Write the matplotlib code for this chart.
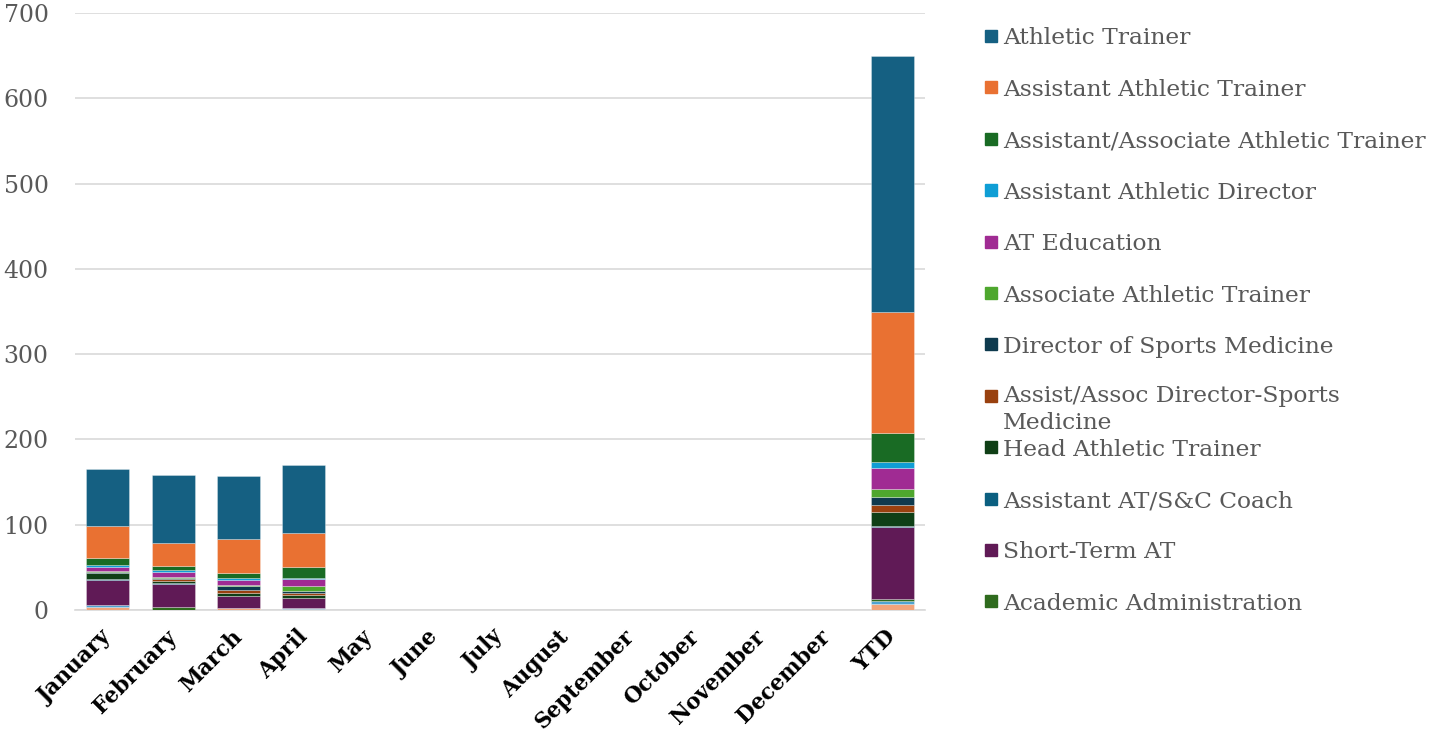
import matplotlib
matplotlib.use("Agg")
import matplotlib.pyplot as plt
import numpy as np
from matplotlib.patches import Rectangle

months = ["January", "February", "March", "April", "May", "June", "July",
          "August", "September", "October", "November", "December"]
categories = months + ["YTD"]

# series listed bottom -> top of the stack (values for Jan..Apr; later months empty)
other_light_orange = [4, 0, 2, 1]
other_light_blue = [2, 0, 0, 1]
academic_administration = [0, 3, 0, 0]
short_term_at = [29, 28, 15, 12]
assistant_at_sc_coach = [1, 1, 0, 0]
head_athletic_trainer = [7, 2, 3, 4]
assist_assoc_director_sm = [0, 2, 4, 2]
director_sports_medicine = [1, 2, 4, 2]
associate_athletic_trainer = [2, 1, 1, 6]
at_education = [5, 5, 6, 8]
assistant_athletic_director = [2, 3, 2, 1]
assistant_associate_at = [8, 5, 6, 14]
assistant_athletic_trainer = [37, 27, 40, 39]
athletic_trainer = [67, 79, 74, 80]

series = [
    ("Other A", other_light_orange, "#F1A47A", False),
    ("Other B", other_light_blue, "#4FA3D1", False),
    ("Academic Administration", academic_administration, "#2F6B1E", True),
    ("Short-Term AT", short_term_at, "#601A56", True),
    ("Assistant AT/S&C Coach", assistant_at_sc_coach, "#0B5F80", True),
    ("Head Athletic Trainer", head_athletic_trainer, "#0F3F16", True),
    ("Assist/Assoc Director-Sports\nMedicine", assist_assoc_director_sm, "#99410F", True),
    ("Director of Sports Medicine", director_sports_medicine, "#0E3A4E", True),
    ("Associate Athletic Trainer", associate_athletic_trainer, "#4EA72E", True),
    ("AT Education", at_education, "#A02B93", True),
    ("Assistant Athletic Director", assistant_athletic_director, "#0F9ED5", True),
    ("Assistant/Associate Athletic Trainer", assistant_associate_at, "#196B24", True),
    ("Assistant Athletic Trainer", assistant_athletic_trainer, "#E97132", True),
    ("Athletic Trainer", athletic_trainer, "#156082", True),
]

FONT = "DejaVu Serif"
W, H = 1432, 733
fig = plt.figure(figsize=(W / 100, H / 100), dpi=100)
ax = fig.add_axes([75 / W, (H - 610) / H, 850 / W, 597 / H])

x = np.arange(len(categories))
bottom = np.zeros(len(categories))
for name, vals, color, _ in series:
    full = np.zeros(len(categories))
    full[:len(vals)] = vals
    full[-1] = sum(vals)  # YTD
    ax.bar(x, full, bottom=bottom, width=0.66, color=color,
           edgecolor=(1, 1, 1, 0.35), linewidth=0.6, zorder=3)
    bottom += full

ax.set_xlim(-0.5, len(categories) - 0.5)
ax.set_ylim(0, 700)
ax.set_yticks(np.arange(0, 701, 100))
ax.yaxis.grid(True, color="#D9D9D9", linewidth=1.2, zorder=0)
ax.set_axisbelow(True)
for s in ["top", "right", "left"]:
    ax.spines[s].set_visible(False)
ax.spines["bottom"].set_color("#D9D9D9")
ax.spines["bottom"].set_linewidth(1.2)
ax.tick_params(axis="both", length=0)
ax.tick_params(axis="y", pad=19)
for lab in ax.get_yticklabels():
    lab.set_fontfamily(FONT)
    lab.set_fontsize(17)
    lab.set_color("#595959")
ax.set_xticks(x)
ax.set_xticklabels(categories, rotation=45, ha="right", va="center",
                   rotation_mode="anchor",
                   fontfamily=FONT, fontsize=15.5, fontweight="bold", color="black")
ax.tick_params(axis="x", pad=17)

# legend (top series first), drawn at fixed spacing as in the reference
legend_items = [s for s in reversed(series) if s[3]]
y0 = 36
step = 51.4
for i, (name, _, color, _) in enumerate(legend_items):
    yc = y0 + i * step
    fig.patches.append(Rectangle((985 / W, 1 - (yc + 6) / H), 12 / W, 12 / H,
                                 transform=fig.transFigure, color=color))
    if "\n" in name:
        fig.text(1003 / W, 1 - (yc - 11) / H, name, fontfamily=FONT, fontsize=16.8,
                 color="#595959", va="top", ha="left", linespacing=1.3)
    else:
        fig.text(1003 / W, 1 - yc / H, name, fontfamily=FONT, fontsize=16.8,
                 color="#595959", va="center_baseline", ha="left")

fig.savefig("out.png", dpi=100)
